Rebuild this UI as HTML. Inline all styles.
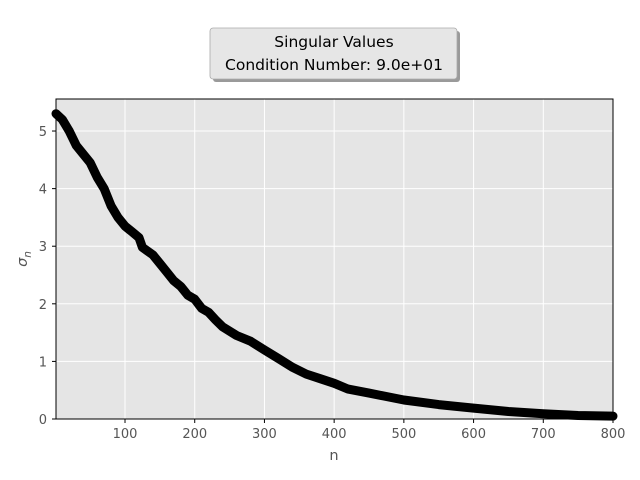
<!DOCTYPE html>
<html><head><meta charset="utf-8"><style>
body{margin:0;background:#fff;}
svg{display:block;font-family:"DejaVu Sans","Liberation Sans",sans-serif;}
</style></head><body>
<svg id="chart" width="640" height="480">
<rect x="213" y="31" width="247" height="51" rx="3" fill="#9a9a9a"/>
<rect x="210" y="28" width="247" height="51" rx="3" fill="#e6e6e6" stroke="#aaa" stroke-width="0.8"/>
<text x="334" y="47" font-size="15.5" text-anchor="middle" fill="#000">Singular Values</text>
<text x="334" y="70" font-size="15.5" text-anchor="middle" fill="#000">Condition Number: 9.0e+01</text>
<rect x="56" y="99" width="557" height="320" fill="#e5e5e5"/>
<g id="grid"></g><g id="ticks"></g><g id="series"></g>
<rect x="56" y="99" width="557" height="320" fill="none" stroke="#000" stroke-width="1"/>
<text x="334" y="460" font-size="14.5" text-anchor="middle" fill="#555">n</text>
<text transform="translate(27,259) rotate(-90)" font-size="14.5" text-anchor="middle" fill="#555" font-style="italic">σ<tspan font-size="10.5" dy="4">n</tspan></text>
</svg>
<script>
const nValues=[1,10,20,30,40,50,60,70,80,90,100,110,120,125,140,150,160,170,180,190,200,210,220,230,240,260,280,300,320,340,360,380,400,420,450,500,550,600,650,700,750,800];
const sigmaValues=[5.3,5.2,5.0,4.75,4.6,4.45,4.2,4.0,3.7,3.5,3.35,3.25,3.15,2.98,2.85,2.7,2.55,2.4,2.3,2.15,2.08,1.92,1.85,1.72,1.6,1.45,1.35,1.2,1.05,0.9,0.78,0.7,0.62,0.52,0.45,0.33,0.25,0.19,0.13,0.09,0.06,0.05];
const xTicks=[100,200,300,400,500,600,700,800];
const yTicks=[0,1,2,3,4,5];
const X0=56,X1=613,Y0=419,Y1=99,xMin=1,xMax=800,yMin=0,yMax=5.556;
const sx=v=>X0+(v-xMin)/(xMax-xMin)*(X1-X0);
const sy=v=>Y0-(v-yMin)/(yMax-yMin)*(Y0-Y1);
const NS="http://www.w3.org/2000/svg";
function mk(tag,attrs,parent){const e=document.createElementNS(NS,tag);for(const k in attrs)e.setAttribute(k,attrs[k]);document.getElementById(parent).appendChild(e);return e;}
xTicks.forEach(t=>{
 const g=mk('line',{x1:sx(t),x2:sx(t),y1:Y1,y2:Y0,stroke:'#fff','stroke-width':1},'grid');
 
 
 const tk=mk('line',{x1:sx(t),x2:sx(t),y1:Y0,y2:Y0+4,stroke:'#000','stroke-width':1},'ticks');
 
 
 const lb=mk('text',{x:sx(t),y:Y0+19,'font-size':13,'text-anchor':'middle',fill:'#555'},'ticks');
 lb.textContent=t;
 
 
});
yTicks.forEach(t=>{
 const g=mk('line',{x1:X0,x2:X1,y1:sy(t),y2:sy(t),stroke:'#fff','stroke-width':1},'grid');
 
 
 const tk=mk('line',{x1:X0-4,x2:X0,y1:sy(t),y2:sy(t),stroke:'#000','stroke-width':1},'ticks');
 
 
 const lb=mk('text',{x:X0-9,y:sy(t)+5,'font-size':13,'text-anchor':'end',fill:'#555'},'ticks');
 lb.textContent=t;
 
 
});
const pts=nValues.map((n,i)=>sx(n).toFixed(1)+','+sy(sigmaValues[i]).toFixed(1)).join(' ');
const line=mk('polyline',{points:pts,fill:'none',stroke:'#000','stroke-width':9,'stroke-linejoin':'round','stroke-linecap':'round'},'series');


</script>
</body></html>
